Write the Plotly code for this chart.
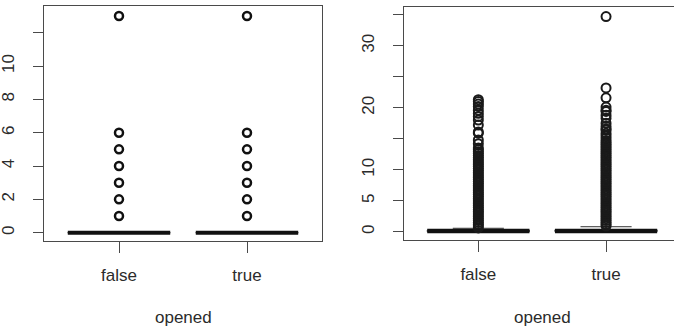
import plotly.graph_objects as go

# ---------------- data ----------------
categories = ["false", "true"]
cat_pos = [1, 2]

# left panel: counts (box collapsed at 0)
left_stats = {"q1": [0, 0], "median": [0, 0], "q3": [0, 0], "lower": [0, 0], "upper": [0, 0]}
left_out_false = [1, 2, 3, 4, 5, 6, 13]
left_out_true = [1, 2, 3, 4, 5, 6, 13]

# right panel
right_stats = {"q1": [0, 0], "median": [0.1, 0.1], "q3": [0.25, 0.3], "lower": [0, 0], "upper": [0.55, 0.8]}
right_out_false = [0.6, 0.9, 1.2, 1.5, 1.8, 2.1, 2.4, 2.7, 3.0, 3.3, 3.6, 3.9, 4.2, 4.5, 4.8,
                   5.1, 5.4, 5.7, 6.0, 6.3, 6.6, 6.9, 7.2, 7.5, 7.8, 8.1, 8.4, 8.7, 9.0, 9.3,
                   9.6, 9.9, 10.2, 10.5, 10.8, 11.1, 11.4, 11.7, 12.0, 12.3, 12.6, 12.9, 13.2,
                   13.5, 14.2, 14.8, 15.9, 16.1, 17.2, 18.0, 18.6, 19.1, 19.6, 20.2, 20.6,
                   21.0, 21.3]
right_out_true = [0.9, 1.2, 1.5, 1.8, 2.1, 2.4, 2.7, 3.0, 3.3, 3.6, 3.9, 4.2, 4.5, 4.8,
                  5.1, 5.4, 5.7, 6.0, 6.3, 6.6, 6.9, 7.2, 7.5, 7.8, 8.1, 8.4, 8.7, 9.0, 9.3,
                  9.6, 9.9, 10.2, 10.5, 10.8, 11.1, 11.4, 11.7, 12.0, 12.3, 12.6, 12.9, 13.2,
                  13.5, 13.8, 14.1, 14.4, 14.7, 15.1, 15.5, 15.9, 16.4, 16.6, 17.0, 17.5,
                  18.3, 18.8, 19.4, 19.6, 20.1, 21.6, 23.2, 34.7]

left_tickvals = [0, 2, 4, 6, 8, 10, 12]
left_ticktext = ["0", "2", "4", "6", "8", "10", ""]
right_tickvals = [0, 5, 10, 15, 20, 25, 30, 35]
right_ticktext = ["0", "5", "10", "", "20", "", "30", ""]
x_title = "opened"

# ---------------- figure ----------------
FONT = "Liberation Sans, Arial, sans-serif"
TXT = "#2b2b2b"
AX = "#4a4a4a"
W, H = 674, 329
BOX_W = 0.8

fig = go.Figure()

def add_box(stats, xa, ya, med_w):
    for i, xp in enumerate(cat_pos):
        fig.add_trace(go.Box(
            x=[xp], q1=[stats["q1"][i]], median=[stats["median"][i]], q3=[stats["q3"][i]],
            lowerfence=[stats["lower"][i]], upperfence=[stats["upper"][i]],
            width=BOX_W, whiskerwidth=0.5, boxpoints=False,
            line=dict(color="#333333", width=1), fillcolor="rgba(0,0,0,0)",
            xaxis=xa, yaxis=ya, showlegend=False, hoverinfo="skip"))
        # thick median bar (R draws the median with lwd = 3)
        fig.add_trace(go.Scatter(
            x=[xp - BOX_W / 2, xp + BOX_W / 2], y=[stats["median"][i]] * 2, mode="lines",
            line=dict(color="#111111", width=med_w), xaxis=xa, yaxis=ya,
            showlegend=False, hoverinfo="skip"))

add_box(left_stats, "x", "y", 4)
add_box(right_stats, "x2", "y2", 4.5)

for vals, xp in [(left_out_false, 1), (left_out_true, 2)]:
    fig.add_trace(go.Scatter(
        x=[xp] * len(vals), y=vals, mode="markers",
        marker=dict(symbol="circle-open", size=8, color="#111111", line=dict(width=2.5)),
        xaxis="x", yaxis="y", showlegend=False))

for vals, xp in [(right_out_false, 1), (right_out_true, 2)]:
    fig.add_trace(go.Scatter(
        x=[xp] * len(vals), y=vals, mode="markers",
        marker=dict(symbol="circle-open", size=9, color="#1a1a1a", line=dict(width=2)),
        xaxis="x2", yaxis="y2", showlegend=False))

common_x = dict(tickvals=cat_pos, ticktext=categories, ticks="outside", ticklen=11,
                tickcolor=AX, tickwidth=1, showline=True, linecolor=AX, linewidth=1,
                mirror=True, showgrid=False, zeroline=False,
                tickfont=dict(family=FONT, size=17, color=TXT), ticklabelstandoff=8)
common_y = dict(ticks="outside", ticklen=10, tickcolor=AX, tickwidth=1, showline=True,
                linecolor=AX, linewidth=1, showgrid=False, zeroline=False, tickangle=-90,
                tickfont=dict(family=FONT, size=17, color=TXT), ticklabelstandoff=12)

fig.update_layout(
    width=W, height=H, margin=dict(l=0, r=0, t=0, b=0),
    paper_bgcolor="white", plot_bgcolor="white",
    xaxis=dict(domain=[44 / W, 322 / W], range=[0.414, 2.586], anchor="y", **common_x),
    yaxis=dict(domain=[1 - 240.7 / H, 1 - 5.7 / H], range=[-0.48, 13.62], anchor="x",
               tickvals=left_tickvals, ticktext=left_ticktext, mirror=True, **common_y),
    xaxis2=dict(domain=[404 / W, 1.0], range=[0.418, 2.532], anchor="y2", **common_x),
    yaxis2=dict(domain=[1 - 240 / H, 1 - 7.3 / H], range=[-1.34, 36.2], anchor="x2",
                tickvals=right_tickvals, ticktext=right_ticktext, **common_y),
    annotations=[
        dict(text=x_title, x=1.5, xref="x", y=1 - 317 / H, yref="paper", showarrow=False,
             font=dict(family=FONT, size=17, color=TXT), yanchor="middle"),
        dict(text=x_title, x=1.5, xref="x2", y=1 - 317 / H, yref="paper", showarrow=False,
             font=dict(family=FONT, size=17, color=TXT), yanchor="middle"),
    ],
)

fig.write_html("out.html", config={"displayModeBar": False},
               post_script="document.body.style.margin='0';")
